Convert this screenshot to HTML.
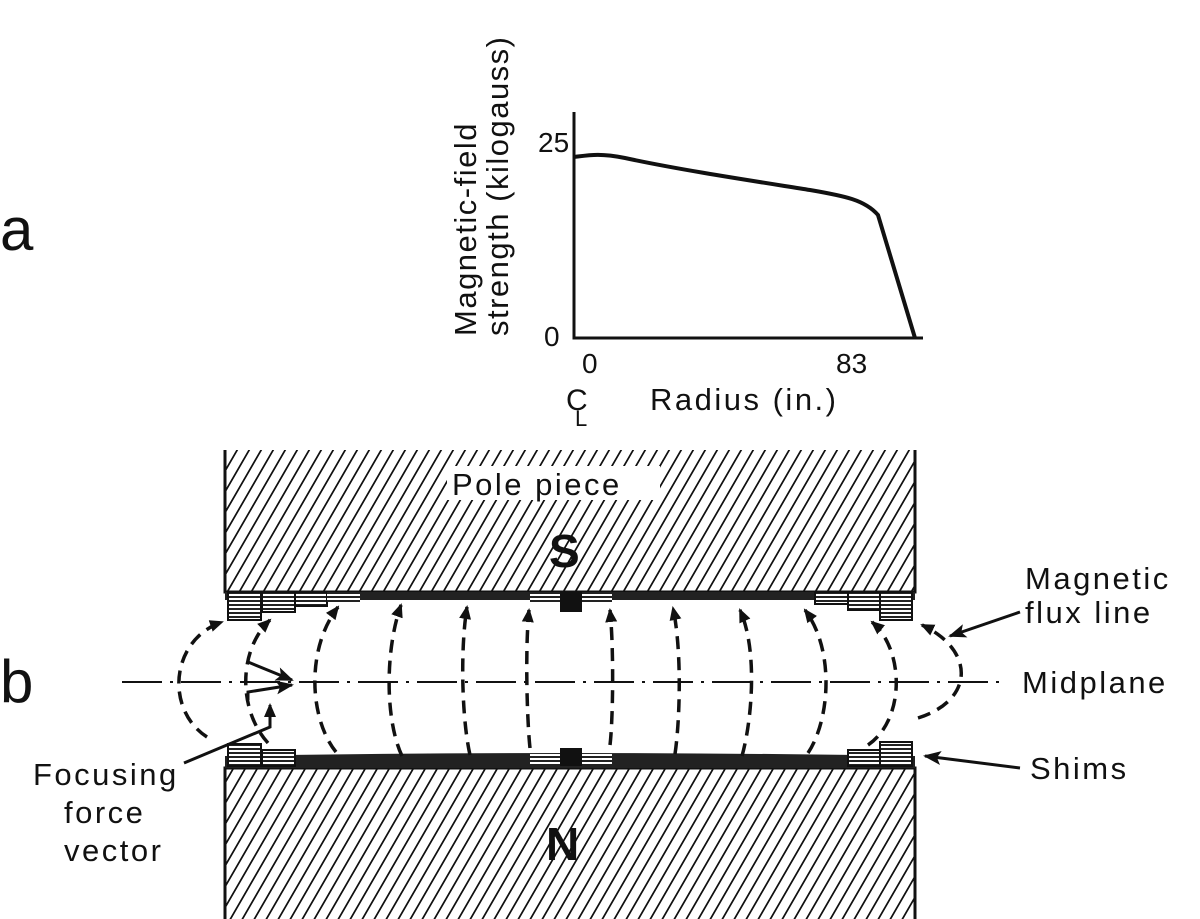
<!DOCTYPE html>
<html><head><style>
html,body{margin:0;padding:0;background:#fff;}
svg{display:block;}
text{font-family:"Liberation Sans",sans-serif;fill:#111;}
</style></head><body>
<svg width="1200" height="919" viewBox="0 0 1200 919" xmlns="http://www.w3.org/2000/svg">
<defs>
<pattern id="h" patternUnits="userSpaceOnUse" width="12" height="20" patternTransform="skewX(-30)">
<line x1="5" y1="0" x2="5" y2="20" stroke="#111" stroke-width="2"/>
</pattern>
<pattern id="s" patternUnits="userSpaceOnUse" width="10" height="4">
<rect width="10" height="4" fill="#fff"/>
<rect width="10" height="2" fill="#222"/>
</pattern>
<marker id="a" markerWidth="14" markerHeight="14" refX="12" refY="7" orient="auto" markerUnits="userSpaceOnUse">
<path d="M0,1 L14,7 L0,13 Z" fill="#111"/>
</marker>
<marker id="b" markerWidth="18" markerHeight="14" refX="16" refY="7" orient="auto" markerUnits="userSpaceOnUse">
<path d="M0,0 L18,7 L0,14 L4,7 Z" fill="#111"/>
</marker>
</defs>

<text x="0" y="250" font-size="60">a</text>
<!-- graph -->
<text transform="translate(476,336) rotate(-90)" font-size="31" letter-spacing="1.5">Magnetic-field</text>
<text transform="translate(508,336) rotate(-90)" font-size="31" letter-spacing="1.5">strength (kilogauss)</text>
<text x="538" y="152" font-size="28">25</text>
<text x="544" y="346" font-size="28">0</text>
<text x="582" y="373" font-size="28">0</text>
<text x="836" y="373" font-size="28">83</text>
<text x="650" y="410" font-size="31" letter-spacing="2.5">Radius (in.)</text>
<text x="566" y="410" font-size="30">C</text>
<text x="575" y="426" font-size="22">L</text>
<path d="M574,112 V338 H923" fill="none" stroke="#111" stroke-width="3"/>
<path d="M574,157 C590,155 600,153 625,158 C680,170 760,182 810,190 C845,196 865,200 878,215 L915,338" fill="none" stroke="#111" stroke-width="4"/>

<!-- pole pieces -->
<rect x="225" y="450" width="690" height="142" fill="url(#h)"/>
<path d="M225,450 V592 H915 V450" fill="none" stroke="#111" stroke-width="3"/>
<rect x="447" y="466" width="213" height="34" fill="#fff"/>
<text x="452" y="495" font-size="31" letter-spacing="2.5">Pole piece</text>
<text x="549" y="567" font-size="46" font-weight="bold">S</text>

<rect x="225" y="768" width="690" height="151" fill="url(#h)"/>
<path d="M225,919 V768 H915 V919" fill="none" stroke="#111" stroke-width="3"/>
<text x="546" y="860" font-size="46" font-weight="bold">N</text>

<!-- top shims -->
<rect x="225" y="592" width="690" height="8" fill="#222"/>
<rect x="228" y="592" width="33" height="28" fill="url(#s)" stroke="#111" stroke-width="2"/>
<rect x="262" y="592" width="33" height="20" fill="url(#s)" stroke="#111" stroke-width="2"/>
<rect x="295" y="592" width="32" height="14" fill="url(#s)" stroke="#111" stroke-width="2"/>
<rect x="327" y="592" width="33" height="10" fill="url(#s)"/>
<rect x="560" y="592" width="22" height="20" fill="#111"/>
<rect x="530" y="592" width="30" height="12" fill="url(#s)"/>
<rect x="582" y="592" width="30" height="12" fill="url(#s)"/>
<rect x="815" y="592" width="33" height="12" fill="url(#s)" stroke="#111" stroke-width="2"/>
<rect x="848" y="592" width="32" height="18" fill="url(#s)" stroke="#111" stroke-width="2"/>
<rect x="880" y="592" width="32" height="28" fill="url(#s)" stroke="#111" stroke-width="2"/>
<!-- bottom shims -->
<path d="M225,768 V756 Q570,750 915,756 V768 Z" fill="#222"/>
<rect x="228" y="744" width="33" height="22" fill="url(#s)" stroke="#111" stroke-width="2"/>
<rect x="262" y="750" width="33" height="16" fill="url(#s)" stroke="#111" stroke-width="2"/>
<rect x="560" y="748" width="22" height="18" fill="#111"/>
<rect x="530" y="754" width="30" height="10" fill="url(#s)"/>
<rect x="582" y="754" width="30" height="10" fill="url(#s)"/>
<rect x="848" y="750" width="32" height="16" fill="url(#s)" stroke="#111" stroke-width="2"/>
<rect x="880" y="742" width="32" height="24" fill="url(#s)" stroke="#111" stroke-width="2"/>

<!-- midplane -->
<line x1="122" y1="682" x2="1003" y2="682" stroke="#111" stroke-width="2" stroke-dasharray="40,8,3,8"/>

<!-- flux lines -->
<g fill="none" stroke="#111" stroke-width="3.5" stroke-dasharray="13,8" marker-end="url(#a)">
<path d="M207,737 C165,710 170,640 222,622"/>
<path d="M268,743 C238,710 238,650 270,620"/>
<path d="M336,752 C310,720 305,650 338,607"/>
<path d="M402,756 C385,720 385,650 401,605"/>
<path d="M470,755 C462,720 460,650 467,607"/>
<path d="M530,748 C527,720 525,650 529,610"/>
<path d="M610,745 C613,720 614,650 610,610"/>
<path d="M675,754 C680,720 682,650 673,608"/>
<path d="M742,756 C752,720 758,650 740,610"/>
<path d="M808,753 C830,720 835,650 805,610"/>
<path d="M868,745 C905,720 905,650 872,622"/>
<path d="M918,718 C975,700 975,650 922,625"/>
</g>

<!-- focusing force vectors -->
<g stroke="#111" stroke-width="3" fill="none">
<path d="M248,662 L292,680" marker-end="url(#b)"/>
<path d="M248,700 L248,692 L292,685" marker-end="url(#b)"/>
<path d="M184,763 L270,727 L270,705" marker-end="url(#a)"/>
</g>

<g stroke="#111" stroke-width="3" fill="none">
<path d="M1020,612 L950,636" marker-end="url(#b)"/>
<path d="M1020,768 L925,756" marker-end="url(#b)"/>
</g>
<text x="1025" y="589" font-size="31" letter-spacing="2.5">Magnetic</text>
<text x="1025" y="623" font-size="31" letter-spacing="2.5">flux line</text>
<text x="1022" y="693" font-size="31" letter-spacing="2.5">Midplane</text>
<text x="1030" y="779" font-size="31" letter-spacing="2.5">Shims</text>

<text x="0" y="702" font-size="60">b</text>
<text x="33" y="785" font-size="31" letter-spacing="2.5">Focusing</text>
<text x="64" y="823" font-size="31" letter-spacing="2.5">force</text>
<text x="64" y="861" font-size="31" letter-spacing="2.5">vector</text>
</svg>
</body></html>
